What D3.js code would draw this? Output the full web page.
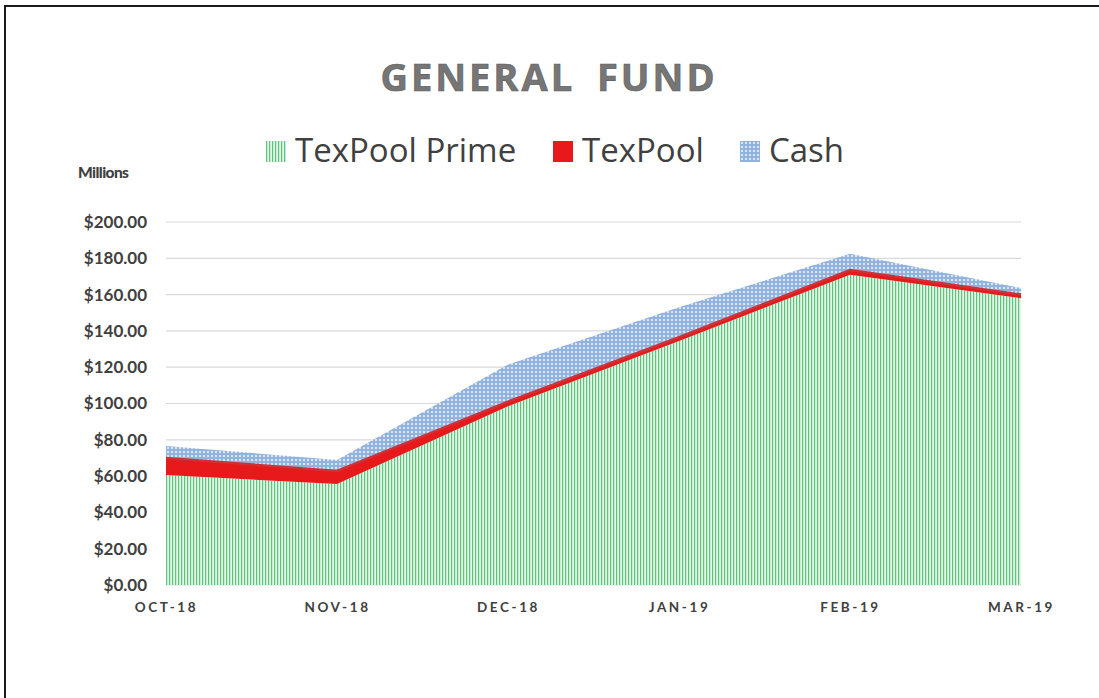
<!DOCTYPE html>
<html>
<head>
<meta charset="utf-8">
<script src="https://cdn.jsdelivr.net/npm/d3@7"></script>
<style>
  body { margin: 0; background: #fff; }
  svg { display: block; }
</style>
</head>
<body>
<div id="chart"></div>
<script>
var svgWidth = 1099;
var svgHeight = 698;

// data (millions)
var months = ["OCT-18", "NOV-18", "DEC-18", "JAN-19", "FEB-19", "MAR-19"];
var texPoolPrime = [60.6, 55.6, 98.5, 134.5, 171.0, 158.0];
var texPool = [9.4, 7.2, 2.5, 2.0, 2.5, 2.0];
var cash = [6.6, 6.1, 20.5, 16.5, 9.0, 3.6];
var seriesNames = ["TexPool Prime", "TexPool", "Cash"];
var yTicks = [0, 20, 40, 60, 80, 100, 120, 140, 160, 180, 200];

var margin = { top: 222, right: 78, bottom: 113, left: 166 };
var width = svgWidth - margin.left - margin.right;
var height = svgHeight - margin.top - margin.bottom;

var svg = d3.select("#chart")
  .append("svg")
  .attr("width", svgWidth)
  .attr("height", svgHeight);

var defs = svg.append("defs");

// vertical green stripes
var pg = defs.append("pattern")
  .attr("id", "stripes")
  .attr("patternUnits", "userSpaceOnUse")
  .attr("width", 3).attr("height", 3);
pg.append("rect").attr("width", 3).attr("height", 3).attr("fill", "#e4f5e6");
pg.append("rect").attr("x", 0).attr("width", 1.2).attr("height", 3).attr("fill", "#5cc57d");

// blue crosshatch
var pb = defs.append("pattern")
  .attr("id", "hatch")
  .attr("patternUnits", "userSpaceOnUse")
  .attr("width", 4).attr("height", 4);
pb.append("rect").attr("width", 4).attr("height", 4).attr("fill", "#92b3de");
pb.append("rect").attr("x", 1).attr("y", 1).attr("width", 2).attr("height", 2).attr("fill", "#dbe6f5");

// frame lines
svg.append("line").attr("x1", 5).attr("x2", svgWidth).attr("y1", 6).attr("y2", 6)
  .attr("stroke", "#1a1a1a").attr("stroke-width", 2);
svg.append("line").attr("x1", 5).attr("x2", 5).attr("y1", 5).attr("y2", svgHeight)
  .attr("stroke", "#1a1a1a").attr("stroke-width", 2);

var chartGroup = svg.append("g")
  .attr("transform", `translate(${margin.left}, ${margin.top})`);

var xScale = d3.scalePoint().domain(months).range([0, width]);
var yScale = d3.scaleLinear().domain([0, 200]).range([height, 0]);

// gridlines
chartGroup.append("g")
  .selectAll("line")
  .data(yTicks)
  .enter()
  .append("line")
  .attr("x1", 0).attr("x2", width)
  .attr("y1", d => yScale(d)).attr("y2", d => yScale(d))
  .attr("stroke", "#d9d9d9")
  .attr("stroke-width", 1.2);

var table = months.map(function(m, i) {
  return { month: m, "TexPool Prime": texPoolPrime[i], "TexPool": texPool[i], "Cash": cash[i] };
});

var stack = d3.stack().keys(seriesNames);
var layers = stack(table);

var area = d3.area()
  .x(d => xScale(d.data.month))
  .y0(d => yScale(d[0]))
  .y1(d => yScale(d[1]));

var layerFill = { "TexPool Prime": "url(#stripes)", "TexPool": "#e8191b", "Cash": "url(#hatch)" };

chartGroup.selectAll(".layer")
  .data(layers)
  .enter()
  .append("path")
  .attr("class", "layer")
  .attr("d", area)
  .attr("fill", d => layerFill[d.key]);

// darker red edge on top of TexPool band
var topLine = d3.line()
  .x(d => xScale(d.data.month))
  .y(d => yScale(d[1]));
chartGroup.append("path")
  .datum(layers[1])
  .attr("d", topLine)
  .attr("fill", "none")
  .attr("stroke", "#cc3338")
  .attr("stroke-width", 2.5);

// y axis labels
var leftAxis = d3.axisLeft(yScale)
  .tickValues(yTicks)
  .tickSize(0)
  .tickPadding(19)
  .tickFormat(d => "$" + d3.format(".2f")(d));
var yAxis = chartGroup.append("g").call(leftAxis);
yAxis.select(".domain").remove();
yAxis.selectAll("text")
  .attr("font-family", "Lato")
  .attr("font-weight", "bold")
  .attr("font-size", "17px")
  .attr("fill", "#404040");

// x axis labels
var bottomAxis = d3.axisBottom(xScale).tickSize(0).tickPadding(17);
var xAxis = chartGroup.append("g")
  .attr("transform", `translate(0, ${height})`)
  .call(bottomAxis);
xAxis.select(".domain").remove();
xAxis.selectAll("text")
  .attr("font-family", "Lato")
  .attr("font-weight", "bold")
  .attr("font-size", "13.5px")
  .attr("letter-spacing", "2.6px")
  .attr("fill", "#404040");

// title
svg.append("text")
  .attr("x", 549)
  .attr("y", 91)
  .attr("text-anchor", "middle")
  .attr("font-family", "Open Sans")
  .attr("font-weight", "bold")
  .attr("font-size", "38px")
  .attr("letter-spacing", "3px")
  .attr("word-spacing", "9px")
  .attr("fill", "#767676")
  .attr("stroke", "#5a5a5a")
  .attr("stroke-width", 0.6)
  .text("GENERAL FUND");

// units label
svg.append("text")
  .attr("x", 78)
  .attr("y", 178)
  .attr("font-family", "Lato")
  .attr("font-weight", "900")
  .attr("font-size", "15.5px")
  .attr("letter-spacing", "-0.6px")
  .attr("fill", "#404040")
  .text("Millions");

// legend
var legendItems = [
  { name: "TexPool Prime", fill: "url(#stripes)", x: 266 },
  { name: "TexPool", fill: "#e8191b", x: 553 },
  { name: "Cash", fill: "url(#hatch)", x: 740 }
];
var legend = svg.append("g").selectAll("g")
  .data(legendItems)
  .enter()
  .append("g")
  .attr("transform", d => `translate(${d.x}, 141)`);
legend.append("rect")
  .attr("width", 20).attr("height", 21)
  .attr("fill", d => d.fill);
legend.append("text")
  .attr("x", 29)
  .attr("y", 21)
  .attr("font-family", "Open Sans")
  .attr("font-size", "33px")
  .attr("fill", "#404040")
  .text(d => d.name);
</script>
</body>
</html>
